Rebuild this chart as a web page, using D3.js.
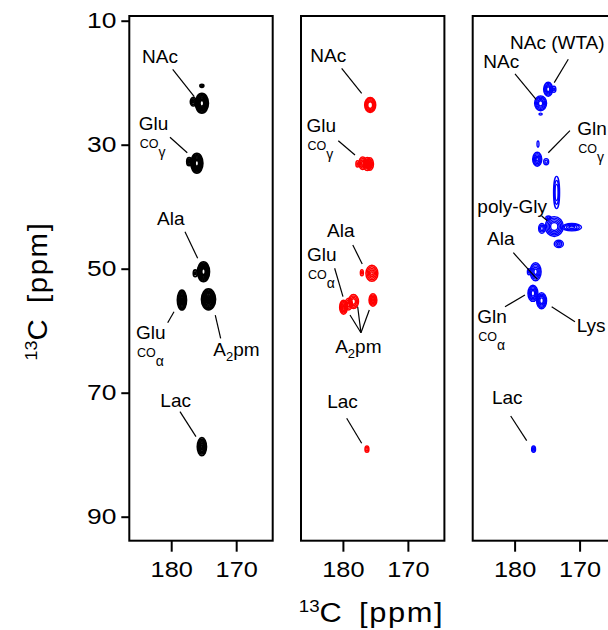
<!DOCTYPE html>
<html><head><meta charset="utf-8">
<script src="https://cdn.jsdelivr.net/npm/d3@7"></script>
<style>
body{margin:0;background:#fff}
svg{display:block}
text{font-family:"Liberation Sans",Arial,Helvetica,sans-serif;fill:#000}
</style>
</head><body>
<svg id="c" width="608" height="630"></svg>
<script>
// ---- data ----
const xTicks = [180, 170];
const yTicks = [10, 30, 50, 70, 90];
const panelColors = ["#000000", "#ff0000", "#0000ff"];
// peaks: [x ppm, y ppm, rx ppm, ry ppm, contour levels, innermost fraction]
const peaksBlack = [
  [175.28, 23.32, 1.00, 1.60, 7, 0.30],
  [176.60, 23.06, 0.45, 0.70, 3, 0.30],
  [175.28, 20.50, 0.30, 0.25, 2, 0.40],
  [176.05, 33.00, 0.92, 1.60, 7, 0.30],
  [177.23, 32.74, 0.38, 0.65, 3, 0.30],
  [175.03, 50.48, 0.92, 1.60, 7, 0.30],
  [176.30, 50.74, 0.30, 0.56, 2, 0.40],
  [178.35, 55.05, 0.70, 1.60, 8, 0.10],
  [174.26, 54.94, 1.08, 1.70, 9, 0.10],
  [175.28, 78.70, 0.70, 1.45, 6, 0.20]
];
const peaksRed = [
  [175.80, 23.60, 0.85, 1.20, 5, 0.45],
  [177.75, 33.10, 0.25, 0.50, 2, 0.40],
  [176.95, 33.00, 0.60, 1.00, 4, 0.30],
  [176.25, 33.10, 0.65, 1.05, 4, 0.30],
  [175.85, 33.10, 0.55, 1.00, 3, 0.40],
  [175.54, 50.74, 0.92, 1.30, 5, 0.20],
  [177.08, 50.65, 0.23, 0.50, 2, 0.40],
  [179.90, 56.20, 0.60, 1.13, 6, 0.10],
  [179.10, 55.70, 0.55, 0.95, 3, 0.40],
  [178.37, 55.30, 0.77, 1.13, 4, 0.40],
  [175.38, 55.05, 0.60, 1.00, 5, 0.20],
  [176.30, 79.10, 0.30, 0.50, 2, 0.50]
];
const peaksBlue = [
  [176.00, 23.32, 0.92, 1.20, 5, 0.35],
  [174.83, 21.06, 0.70, 1.13, 5, 0.35],
  [173.95, 21.06, 0.30, 0.50, 2, 0.40],
  [176.00, 25.05, 0.25, 0.15, 1, 1.00],
  [176.52, 32.35, 0.70, 1.13, 5, 0.25],
  [175.14, 32.74, 0.38, 0.50, 2, 0.50],
  [176.40, 29.90, 0.15, 0.50, 1, 1.00],
  [173.54, 37.70, 0.46, 2.60, 3, 0.50],
  [173.90, 43.20, 1.40, 1.60, 5, 0.40],
  [171.20, 43.30, 1.50, 0.60, 4, 0.30],
  [173.20, 46.00, 0.70, 0.60, 3, 0.30],
  [174.80, 41.80, 0.40, 0.30, 2, 0.50],
  [175.80, 43.50, 0.50, 0.80, 3, 0.40],
  [176.77, 50.48, 0.85, 1.45, 5, 0.30],
  [177.80, 50.48, 0.23, 0.50, 2, 0.40],
  [177.18, 53.97, 0.77, 1.30, 5, 0.35],
  [175.85, 55.16, 0.77, 1.30, 5, 0.35],
  [177.08, 79.10, 0.30, 0.50, 3, 0.30]
];
const panelPeaks = [peaksBlack, peaksRed, peaksBlue];
// labels: [panel, text, x ppm, y ppm, anchor, CO subscript ("" = none)]
const labels = [
  [0, "NAc", 181.73, 16.82, "middle", ""],
  [0, "Glu", 185.00, 27.63, "start", "γ"],
  [0, "Ala", 180.07, 42.95, "middle", ""],
  [0, "Glu", 185.42, 61.39, "start", "α"],
  [0, "A2pm", 173.53, 64.08, "start", ""],
  [0, "Lac", 179.31, 72.26, "middle", ""],
  [1, "NAc", 182.25, 16.61, "middle", ""],
  [1, "Glu", 185.62, 27.90, "start", "γ"],
  [1, "Ala", 180.33, 44.84, "middle", ""],
  [1, "Glu", 185.53, 48.71, "start", "α"],
  [1, "A2pm", 177.63, 63.64, "middle", ""],
  [1, "Lac", 180.07, 72.51, "middle", ""],
  [2, "NAc (WTA)", 180.71, 14.61, "start", ""],
  [2, "NAc", 182.05, 17.68, "middle", ""],
  [2, "Gln", 170.36, 28.43, "start", "γ"],
  [2, "poly-Gly", 185.74, 41.06, "start", ""],
  [2, "Ala", 182.12, 46.18, "middle", ""],
  [2, "Gln", 185.74, 58.80, "start", "α"],
  [2, "Lys", 170.45, 60.16, "start", ""],
  [2, "Lac", 181.13, 71.82, "middle", ""]
];
// leader lines: [panel, x1, y1, x2, y2] in ppm
const leaders = [
  [0, 179.77, 17.84, 176.45, 22.26],
  [0, 180.19, 28.80, 177.53, 31.29],
  [0, 177.88, 44.03, 175.93, 48.32],
  [0, 180.54, 58.71, 179.57, 56.93],
  [0, 173.22, 57.47, 172.39, 61.22],
  [0, 178.65, 73.06, 176.19, 77.09],
  [1, 180.19, 17.68, 177.11, 21.71],
  [1, 180.71, 29.35, 178.14, 31.66],
  [1, 178.48, 46.17, 177.03, 49.24],
  [1, 181.27, 49.93, 179.99, 54.51],
  [1, 178.91, 57.47, 177.22, 60.32],
  [1, 177.73, 56.13, 177.22, 60.32],
  [1, 175.94, 56.66, 177.22, 60.32],
  [1, 179.42, 74.13, 177.11, 78.16],
  [2, 171.74, 16.22, 173.90, 19.98],
  [2, 179.94, 18.59, 176.70, 22.68],
  [2, 171.48, 27.74, 174.82, 31.29],
  [2, 175.83, 41.50, 174.97, 42.26],
  [2, 180.20, 47.42, 176.51, 51.71],
  [2, 181.48, 56.13, 178.41, 54.24],
  [2, 174.30, 56.13, 170.71, 58.55],
  [2, 180.60, 73.76, 178.14, 77.74]
];
const xDomain = [186.45, 164.38];
const yDomain = [9.24, 93.87];

// ---- layout ----
const svg = d3.select("#c");
const panelLeft = [129.3, 301.0, 472.7];
const panelW = 143.4, plotTop = 16, plotBottom = 540.7;
const strokeW = [1.7, 1.5, 1.4];
const y = d3.scaleLinear().domain(yDomain).range([plotTop, plotBottom]);
const xs = panelLeft.map(l => d3.scaleLinear().domain(xDomain).range([l, l + panelW]));

panelLeft.forEach((l, i) => {
  const x = xs[i];
  const g = svg.append("g");
  // peaks
  const pg = g.append("g").attr("fill", "none").attr("stroke", panelColors[i])
    .attr("stroke-width", strokeW[i]);
  panelPeaks[i].forEach(p => {
    const [px, py, rx, ry, n, inner] = p;
    for (let k = 0; k < n; k++) {
      const f = n > 1 ? 1 - k * (1 - inner) / (n - 1) : 1;
      pg.append("ellipse")
        .attr("cx", x(px)).attr("cy", y(py))
        .attr("rx", Math.abs(x(px + rx * f) - x(px)))
        .attr("ry", Math.abs(y(py + ry * f) - y(py)));
    }
  });
  // leaders
  g.append("g").attr("stroke", "#000").attr("stroke-width", 1.2)
    .selectAll("line").data(leaders.filter(d => d[0] === i)).join("line")
    .attr("x1", d => x(d[1])).attr("y1", d => y(d[2]))
    .attr("x2", d => x(d[3])).attr("y2", d => y(d[4]));
  // labels
  labels.filter(d => d[0] === i).forEach(d => {
    const [, t, lx, ly, anchor, co] = d;
    const tx = g.append("text").attr("x", x(lx)).attr("y", y(ly))
      .attr("text-anchor", anchor).style("font-size", "19px");
    if (t === "A2pm") {
      tx.append("tspan").text("A");
      tx.append("tspan").attr("dy", 5).style("font-size", "13px").text("2");
      tx.append("tspan").attr("dy", -5).text("pm");
    } else tx.text(t);
    if (co) {
      const c = g.append("text").attr("x", x(lx) + 1).attr("y", y(ly) + 18)
        .style("font-size", "12.5px");
      c.append("tspan").text("CO");
      c.append("tspan").attr("dy", 9).style("font-size", "14px").text(co);
    }
  });
  // frame
  g.append("rect").attr("x", l).attr("y", plotTop).attr("width", panelW)
    .attr("height", plotBottom - plotTop).attr("fill", "none")
    .attr("stroke", "#000").attr("stroke-width", 2);
  // bottom axis
  const ax = g.append("g").attr("transform", `translate(0,${plotBottom})`)
    .call(d3.axisBottom(x).tickValues(xTicks).tickSize(11).tickPadding(9.5));
  ax.select(".domain").remove();
  ax.selectAll("line").attr("stroke", "#000").attr("stroke-width", 2);
  ax.selectAll("text").style("font-size", "22px").attr("font-family", null)
    .attr("transform", "scale(1.15,1)");
  if (i === 0) {
    const ay = g.append("g").attr("transform", `translate(${l},0)`)
      .call(d3.axisLeft(y).tickValues(yTicks).tickSize(8).tickPadding(2.8));
    ay.select(".domain").remove();
    ay.selectAll("line").attr("stroke", "#000").attr("stroke-width", 2);
    ay.selectAll("text").style("font-size", "22px").attr("font-family", null)
      .attr("transform", "scale(1.2,1)");
  }
});

// axis titles
function title(sel) {
  sel.append("tspan").attr("dy", -10).style("font-size", "17px").text("13");
  sel.append("tspan").attr("dy", 10).text("C\u00a0 ");
  sel.append("tspan").style("letter-spacing", "1.5px").text("[ppm]");
}
svg.append("text").attr("transform", "translate(371.5,621.7) scale(1.1,1)")
  .attr("text-anchor", "middle").style("font-size", "28px").call(title);
svg.append("text").attr("transform", "translate(47,291) rotate(-90) scale(1.05,1)")
  .attr("text-anchor", "middle").style("font-size", "28px").call(title);
</script>
</body></html>
